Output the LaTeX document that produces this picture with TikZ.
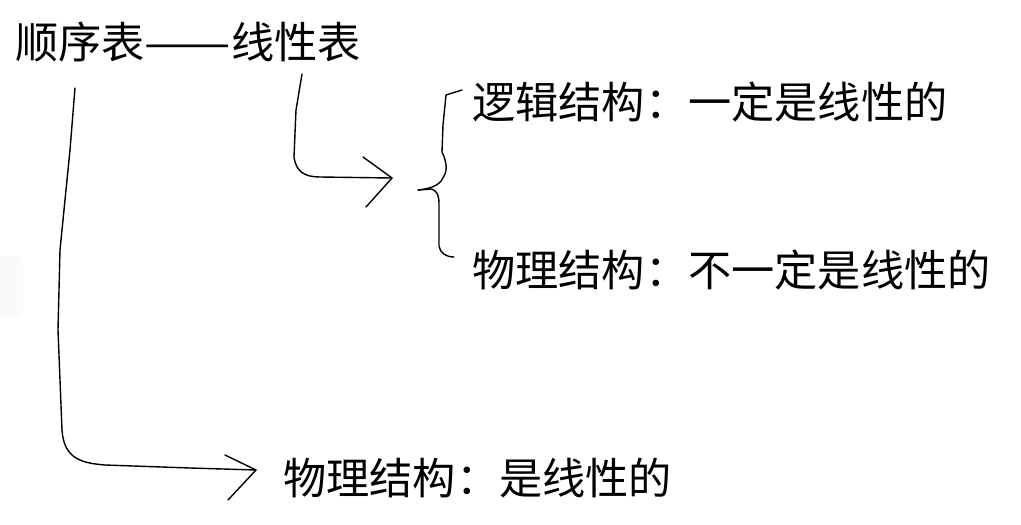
\documentclass[tikz,border=0pt]{standalone}
\usepackage{fontspec}
\usepackage{graphicx}
\newfontfamily\cjk{Noto Sans CJK SC}
\begin{document}
\begin{tikzpicture}[x=1pt,y=-1pt,
  txt/.style={anchor=west,inner sep=0pt,font=\cjk\fontsize{43.2}{50}\selectfont,text=black},
  hand/.style={draw=black,line width=1.4pt,line join=round,line cap=round}]
\useasboundingbox (0,0) rectangle (1021,525);
\fill[black!2,rounded corners=6pt] (-6,256) rectangle (23,316);
% texts
\node[txt] (title) at (15,42) {顺序表\resizebox{2em}{\height}{——}线性表};
\node[txt] (logic) at (472,102) {逻辑结构：一定是线性的};
\node[txt] (phys1) at (472,270) {物理结构：不一定是线性的};
\node[txt] (phys2) at (283,478) {物理结构：是线性的};
% named ends
\coordinate (s1) at (75,88);
\coordinate (t1) at (256,470);
\coordinate (s2) at (302,74);
\coordinate (t2) at (392,178);
\coordinate (bm) at (418,190);
% left connector
\draw[hand] (s1) -- (70,150) -- (60,250) -- (58,330) -- (62,430)
  .. controls (64,458) and (80,463) .. (105,465) -- (190,468) -- (t1);
\draw[hand] (225,455) -- (t1) -- (228,500);
% right connector
\draw[hand] (s2) -- (296,110) -- (294,157)
  .. controls (296,172) and (305,177) .. (320,177) -- (t2);
\draw[hand] (363,157) -- (t2) -- (366,207);
% brace
\draw[hand] (logic.west) ++(-10,-12) coordinate (bt) -- (446,95) -- (443,125) -- (442,152)
  .. controls (446,160) and (448,170) .. (444,176)
  .. controls (441,183) and (436,188) .. (bm);
\draw[hand] (bm) -- (432,189) .. controls (438,192) and (439,196) .. (439,205) -- (439,246)
  .. controls (440,253) and (446,257) .. (454,257);
\end{tikzpicture}
\end{document}
